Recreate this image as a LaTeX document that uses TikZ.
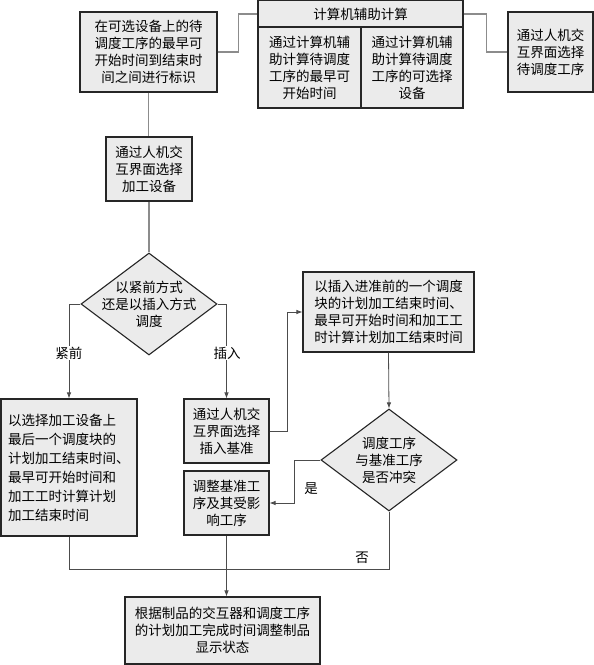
\documentclass[tikz,border=0pt]{standalone}
\usepackage{fontspec}
\setmainfont{Noto Sans CJK SC}
\usetikzlibrary{shapes.geometric,arrows.meta}
\begin{document}
\begin{tikzpicture}[x=1pt,y=-1pt,
  box/.style={draw=black!85,line width=1.1pt,fill=black!8,inner sep=0pt,
    font=\fontsize{13.5}{17}\selectfont,align=center},
  dia/.style={draw=black!85,line width=1.1pt,fill=black!8,shape=diamond,inner sep=0pt},
  dtext/.style={font=\fontsize{13.5}{17}\selectfont,align=center,inner sep=0pt},
  conn/.style={draw=black!70,line width=0.8pt},
  gconn/.style={draw=black!45,line width=1.1pt},
  arr/.style={conn,-{Latex[length=6pt,width=4.5pt]}},
  lbl/.style={font=\fontsize{13.5}{17}\selectfont,fill=white,inner sep=1pt}]
\useasboundingbox (0,0) rectangle (594,665);
% top row
\node[box,minimum width=137pt,minimum height=80pt] (A) at (148.5,52)
  {在可选设备上的待\\调度工序的最早可\\开始时间到结束时\\间之间进行标识};
\node[box,minimum width=205pt,minimum height=27pt] (hdr) at (360.5,14) {计算机辅助计算};
\node[box,minimum width=103pt,minimum height=81pt] (c1) at (309.5,67.5)
  {通过计算机辅\\助计算待调度\\工序的最早可\\开始时间};
\node[box,minimum width=102pt,minimum height=81pt] (c2) at (412,67.5)
  {通过计算机辅\\助计算待调度\\工序的可选择\\设备};
\node[box,minimum width=85pt,minimum height=80pt] (D) at (550.5,52)
  {通过人机交\\互界面选择\\待调度工序};
% middle
\node[box,minimum width=86pt,minimum height=64pt] (B) at (149,169)
  {通过人机交\\互界面选择\\加工设备};
\node[dia,minimum width=136pt,minimum height=102pt] (d1) at (149,304) {};
\node[dtext] (d1t) at (d1.center) {以紧前方式\\还是以插入方式\\调度};
\node[box,minimum width=171pt,minimum height=80pt,align=left] (G) at (388.5,312)
  {以插入进准前的一个调度\\块的计划加工结束时间、\\最早可开始时间和加工工\\时计算计划加工结束时间};
\node[box,minimum width=136pt,minimum height=137pt,align=left,
  font=\fontsize{13.5}{19}\selectfont] (C) at (69,467.5)
  {以选择加工设备上\\最后一个调度块的\\计划加工结束时间、\\最早可开始时间和\\加工工时计算计划\\加工结束时间};
\node[box,minimum width=85pt,minimum height=64pt] (E) at (226.5,431)
  {通过人机交\\互界面选择\\插入基准};
\node[box,minimum width=85pt,minimum height=64pt] (F) at (226.5,503)
  {调整基准工\\序及其受影\\响工序};
\node[dia,minimum width=136pt,minimum height=102pt] (d2) at (389,460) {};
\node[dtext] (d2t) at (d2.center) {调度工序\\与基准工序\\是否冲突};
\node[box,minimum width=195pt,minimum height=67pt] (H) at (222.5,630.5)
  {根据制品的交互器和调度工序\\的计划加工完成时间调整制品\\显示状态};
% connectors top
\draw[gconn] (A.east) -- ++(21,0) |- (hdr.west);
\draw[gconn] (hdr.east) -- ++(23,0) |- (D.west);
\draw[gconn] (A.south) -- (A.south |- B.north);
\draw[gconn] (B.south) -- (d1.north);
% branches
\draw[arr] (d1.west) -| (C.north);
\draw[arr] (d1.east) -| (E.north);
\node[lbl] (l1) at (69,353) {紧前};
\node[lbl] (l2) at (227,353) {插入};
\draw[arr] (E.east) -- ++(18,0) |- (G.west);
\draw[arr] (G.south) -- (d2.north);
\draw[arr] (d2.west) -- ++(-26,0) |- (F.east);
\node[font=\fontsize{13.5}{17}\selectfont,inner sep=0pt] (l3) at (311,489) {是};
\coordinate (m) at (226.5,569);
\draw[conn] (d2.south) |- (m);
\draw[conn] (C.south) |- (m);
\draw[arr] (F.south) -- (F.south |- H.north);
\node[font=\fontsize{13.5}{17}\selectfont,inner sep=0pt] (l4) at (362,558) {否};
\end{tikzpicture}
\end{document}
